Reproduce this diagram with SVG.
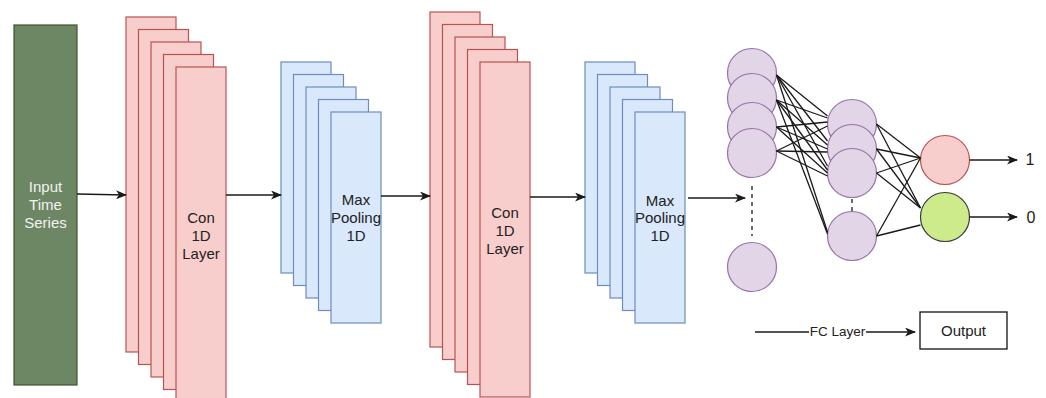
<svg xmlns="http://www.w3.org/2000/svg" width="1046" height="398" viewBox="0 0 1046 398">
  <style>
    text { font-family: "Liberation Sans", Arial, sans-serif; font-size: 15px; fill: #222; text-anchor: middle; dominant-baseline: central; }
    .input { fill: #6d8764; stroke: #3a5431; stroke-width: 1.2; }
    .input-text { fill: #f2f2f2; }
    .conv { fill: #f8cecc; stroke: #b85450; stroke-width: 1.2; }
    .pool { fill: #dae8fc; stroke: #6c8ebf; stroke-width: 1.2; }
    .neuron { fill: #e1d5e7; stroke: #9673a6; stroke-width: 1.2; }
    .out1 { fill: #f8cecc; stroke: #b85450; stroke-width: 1.2; }
    .out0 { fill: #cdeb8b; stroke: #36393d; stroke-width: 1.2; }
    .box { fill: #ffffff; stroke: #111; stroke-width: 1.3; }
    .edge { stroke: #1a1a1a; stroke-width: 1.3; fill: none; }
    .arrow { stroke: #1a1a1a; stroke-width: 1.3; fill: none; marker-end: url(#head); }
    .dash { stroke: #1a1a1a; stroke-width: 1.3; stroke-dasharray: 4 4; fill: none; }
  </style>
  <defs>
    <marker id="head" viewBox="0 0 11 9" refX="10" refY="4.5" markerWidth="11" markerHeight="9" markerUnits="userSpaceOnUse" orient="auto">
      <path d="M0,0 L11,4.5 L0,9 L3,4.5 z" fill="#1a1a1a"/>
    </marker>
  </defs>
  <rect width="1046" height="398" fill="#ffffff"/>

  <!-- input block -->
  <g id="input">
    <rect class="input" x="14" y="25" width="63" height="360"/>
    <text class="input-text" x="45.5" y="186">Input</text>
    <text class="input-text" x="45.5" y="204">Time</text>
    <text class="input-text" x="45.5" y="222">Series</text>
  </g>

  <!-- first convolution stack -->
  <g id="conv1">
    <rect class="conv" x="126" y="17" width="50" height="335"/>
    <rect class="conv" x="138.5" y="29.5" width="50" height="335"/>
    <rect class="conv" x="151" y="42" width="50" height="335"/>
    <rect class="conv" x="163.5" y="54.5" width="50" height="335"/>
    <rect class="conv" x="176" y="67" width="50" height="335"/>
    <text x="201" y="217">Con</text>
    <text x="201" y="235">1D</text>
    <text x="201" y="253">Layer</text>
  </g>

  <!-- first pooling stack -->
  <g id="pool1">
    <rect class="pool" x="281" y="62" width="50" height="211"/>
    <rect class="pool" x="293.5" y="74.5" width="50" height="211"/>
    <rect class="pool" x="306" y="87" width="50" height="211"/>
    <rect class="pool" x="318.5" y="99.5" width="50" height="211"/>
    <rect class="pool" x="331" y="112" width="50" height="211"/>
    <text x="356" y="199">Max</text>
    <text x="356" y="217">Pooling</text>
    <text x="356" y="235">1D</text>
  </g>

  <!-- second convolution stack -->
  <g id="conv2">
    <rect class="conv" x="430" y="12" width="50" height="335"/>
    <rect class="conv" x="442.5" y="24.5" width="50" height="335"/>
    <rect class="conv" x="455" y="37" width="50" height="335"/>
    <rect class="conv" x="467.5" y="49.5" width="50" height="335"/>
    <rect class="conv" x="480" y="62" width="50" height="335"/>
    <text x="505" y="212">Con</text>
    <text x="505" y="230">1D</text>
    <text x="505" y="248">Layer</text>
  </g>

  <!-- second pooling stack -->
  <g id="pool2">
    <rect class="pool" x="585" y="62" width="50" height="211"/>
    <rect class="pool" x="597.5" y="74.5" width="50" height="211"/>
    <rect class="pool" x="610" y="87" width="50" height="211"/>
    <rect class="pool" x="622.5" y="99.5" width="50" height="211"/>
    <rect class="pool" x="635" y="112" width="50" height="211"/>
    <text x="660" y="200">Max</text>
    <text x="660" y="217">Pooling</text>
    <text x="660" y="235">1D</text>
  </g>

  <!-- dense layer 1 -->
  <g id="dense1">
    <circle class="neuron" cx="752" cy="73" r="24.5"/>
    <circle class="neuron" cx="752" cy="98" r="24.5"/>
    <circle class="neuron" cx="752" cy="127" r="24.5"/>
    <circle class="neuron" cx="752" cy="153" r="24.5"/>
    <line class="dash" x1="752" y1="186" x2="752" y2="236"/>
    <circle class="neuron" cx="752" cy="267" r="24.5"/>
  </g>

  <!-- dense layer 2 -->
  <g id="dense2">
    <circle class="neuron" cx="852" cy="124" r="24.5"/>
    <circle class="neuron" cx="852" cy="149" r="24.5"/>
    <circle class="neuron" cx="852" cy="173" r="24.5"/>
    <line class="dash" x1="852" y1="199" x2="852" y2="211"/>
    <circle class="neuron" cx="852" cy="236" r="24.5"/>
  </g>

  <!-- output neurons -->
  <g id="out-1">
    <circle class="out1" cx="945" cy="160" r="24.5"/>
  </g>
  <g id="out-0">
    <circle class="out0" cx="945" cy="217" r="24.5"/>
  </g>

  <!-- labels of the output arrows -->
  <g id="label-1"><text x="1030" y="159" style="font-size:16px">1</text></g>
  <g id="label-0"><text x="1031" y="217" style="font-size:16px">0</text></g>

  <!-- output box -->
  <g id="output">
    <rect class="box" x="920" y="312" width="87" height="37"/>
    <text x="963.5" y="330">Output</text>
  </g>

  <!-- connectors -->
  <g id="connectors">
    <line class="arrow" x1="77" y1="194" x2="126" y2="195"/>
    <line class="arrow" x1="226" y1="195" x2="281" y2="195"/>
    <line class="arrow" x1="381" y1="196" x2="430" y2="196"/>
    <line class="arrow" x1="530" y1="197" x2="585" y2="197"/>
    <line class="arrow" x1="688" y1="198" x2="745" y2="198"/>

    <!-- dense layer 1 to dense layer 2 -->
    <g class="edge">
      <line x1="776.5" y1="75" x2="827.5" y2="116"/>
      <line x1="776.5" y1="75" x2="827.5" y2="141"/>
      <line x1="776.5" y1="75" x2="827.5" y2="166"/>
      <line x1="776.5" y1="75" x2="827.5" y2="232"/>
      <line x1="776.5" y1="100" x2="827.5" y2="118"/>
      <line x1="776.5" y1="100" x2="827.5" y2="145"/>
      <line x1="776.5" y1="100" x2="827.5" y2="170"/>
      <line x1="776.5" y1="100" x2="827.5" y2="234"/>
      <line x1="776.5" y1="127" x2="827.5" y2="122"/>
      <line x1="776.5" y1="127" x2="827.5" y2="149"/>
      <line x1="776.5" y1="127" x2="827.5" y2="173"/>
      <line x1="776.5" y1="151" x2="827.5" y2="126"/>
      <line x1="776.5" y1="151" x2="827.5" y2="152"/>
      <line x1="776.5" y1="151" x2="827.5" y2="176"/>
    </g>

    <!-- dense layer 2 to outputs -->
    <g class="edge">
      <line x1="876.5" y1="124" x2="920.5" y2="158"/>
      <line x1="876.5" y1="124" x2="920.5" y2="208"/>
      <line x1="876.5" y1="149" x2="920.5" y2="158"/>
      <line x1="876.5" y1="149" x2="920.5" y2="208"/>
      <line x1="876.5" y1="173" x2="920.5" y2="158"/>
      <line x1="876.5" y1="173" x2="920.5" y2="208"/>
      <line x1="876.5" y1="236" x2="920.5" y2="158"/>
      <line x1="876.5" y1="236" x2="920.5" y2="225"/>
    </g>

    <line class="arrow" x1="969.5" y1="160" x2="1017" y2="160"/>
    <line class="arrow" x1="969.5" y1="217" x2="1017" y2="217"/>

    <!-- legend arrow -->
    <line class="arrow" x1="755" y1="332" x2="915" y2="332"/>
    <rect x="809" y="324" width="57" height="16" fill="#ffffff"/>
    <text x="837.5" y="331.5" style="font-size:13.5px">FC Layer</text>
  </g>
</svg>
